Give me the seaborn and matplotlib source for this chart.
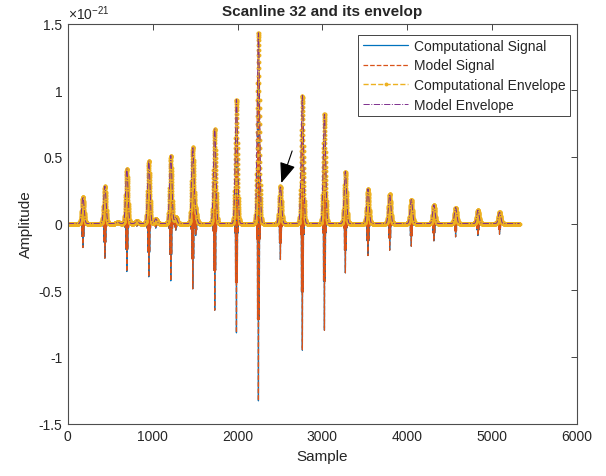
"""
Scanline 32 and its envelope - recreated with seaborn
"""

import numpy as np
import pandas as pd
import matplotlib
matplotlib.use("Agg")
import matplotlib.pyplot as plt
from matplotlib.ticker import FuncFormatter
import seaborn as sns

# --- values (amplitudes in units of 1e-21) ---
n_samples = 5324
pulse_pos = [177, 436, 695, 954, 1213, 1472, 1731, 1987, 2246, 2505,
             2764, 3024, 3271, 3537, 3793, 4048, 4314, 4570, 4833, 5088]
pos_peak = [0.20, 0.28, 0.41, 0.47, 0.51, 0.57, 0.71, 0.93, 1.43, 0.28,
            0.96, 0.82, 0.39, 0.26, 0.22, 0.18, 0.14, 0.12, 0.10, 0.085]
neg_peak = [-0.18, -0.26, -0.36, -0.40, -0.43, -0.49, -0.65, -0.82, -1.33, -0.27,
            -0.95, -0.80, -0.37, -0.24, -0.20, -0.17, -0.13, -0.10, -0.09, -0.08]
# small secondary echoes trailing pulses 2..6
echo_of = [1, 2, 3, 4, 5]
echo_offset = [153, 118, 82, 59, 35]
echo_amp = [0.01, 0.02, 0.035, 0.05, 0.09]

x_ticks = [0, 1000, 2000, 3000, 4000, 5000, 6000]
y_ticks = [-1.5, -1, -0.5, 0, 0.5, 1, 1.5]

# pulse shape parameters (gaussian widths and carrier freq, in samples)
sigma_env = 14.0
sigma_sig = 9.0
carrier = 0.1


def build_traces():
    """Build the RF signal and its envelope from the read peak values"""
    x = np.arange(1, n_samples + 1)
    sig = np.zeros(len(x))
    env = np.zeros(len(x))
    centers = list(pulse_pos) + [pulse_pos[i] + o for i, o in zip(echo_of, echo_offset)]
    tops = list(pos_peak) + echo_amp
    bottoms = list(neg_peak) + [-a for a in echo_amp]
    for c, top, bot in zip(centers, tops, bottoms):
        g_env = np.exp(-0.5 * ((x - c) / sigma_env) ** 2)
        g_sig = np.exp(-0.5 * ((x - c) / sigma_sig) ** 2)
        osc = np.cos(2 * np.pi * carrier * (x - c) + np.pi)
        sig += np.where(osc < 0, abs(bot), 0.9 * top) * g_sig * osc
        env += top * g_env
    return x, sig, env


x, sig, env = build_traces()
df = pd.DataFrame({'Sample': x, 'comp_sig': sig, 'model_sig': sig,
                   'comp_env': env, 'model_env': env})

sns.set_style('white')
plt.rcParams['font.family'] = ['Liberation Sans', 'DejaVu Sans']
plt.rcParams['mathtext.fontset'] = 'custom'
plt.rcParams['mathtext.rm'] = 'Liberation Sans'

fig = plt.figure(figsize=(6.06, 4.77), dpi=100)
ax = fig.add_axes([0.112, 0.110, 0.840, 0.8386])

sns.lineplot(data=df, x='Sample', y='comp_sig', ax=ax, color='#0072BD',
             lw=0.9, sort=False, estimator=None, label='Computational Signal')
sns.lineplot(data=df, x='Sample', y='model_sig', ax=ax, color='#D95319',
             lw=0.9, linestyle='--', sort=False, estimator=None, label='Model Signal')
sns.lineplot(data=df, x='Sample', y='comp_env', ax=ax, color='#EDB120',
             lw=1.0, linestyle='--', marker='o', markersize=2.8, markeredgewidth=0,
             sort=False, estimator=None, label='Computational Envelope')
sns.lineplot(data=df, x='Sample', y='model_env', ax=ax, color='#7E2F8E',
             lw=0.7, linestyle='-.', sort=False, estimator=None, label='Model Envelope')

ax.set_xlim(0, 6000)
ax.set_ylim(-1.5, 1.5)
ax.set_xticks(x_ticks)
ax.set_yticks(y_ticks)
ax.yaxis.set_major_formatter(FuncFormatter(lambda v, p: f'{v:g}'))
ax.tick_params(direction='in', length=4, width=0.6, colors='#262626',
               labelsize=10, top=True, right=True, pad=4)
for s in ax.spines.values():
    s.set_color('#4d4d4d')
    s.set_linewidth(0.8)

ax.set_title('Scanline 32 and its envelop', fontsize=11, fontweight='bold', pad=6)
ax.set_xlabel('Sample', fontsize=11, color='#262626')
ax.set_ylabel('Amplitude', fontsize=11, color='#262626')
ax.text(0.0, 1.005, r'$\mathregular{\times10^{-21}}$', transform=ax.transAxes,
        fontsize=10, color='#262626', ha='left', va='bottom')

ax.annotate('', xy=(2505, 0.284), xytext=(2654, 0.564),
            arrowprops=dict(arrowstyle='-|>,head_length=0.9,head_width=0.35',
                            color='black', lw=0.8, mutation_scale=14))

leg = ax.legend(loc='upper right', bbox_to_anchor=(0.986, 0.972), borderaxespad=0,
                fontsize=10, frameon=True, fancybox=False, framealpha=1,
                edgecolor='#262626', handlelength=3.3, labelspacing=0.4,
                borderpad=0.3, handletextpad=0.4)
leg.get_frame().set_linewidth(0.6)

fig.savefig('out.png', dpi=100)
plt.close(fig)
